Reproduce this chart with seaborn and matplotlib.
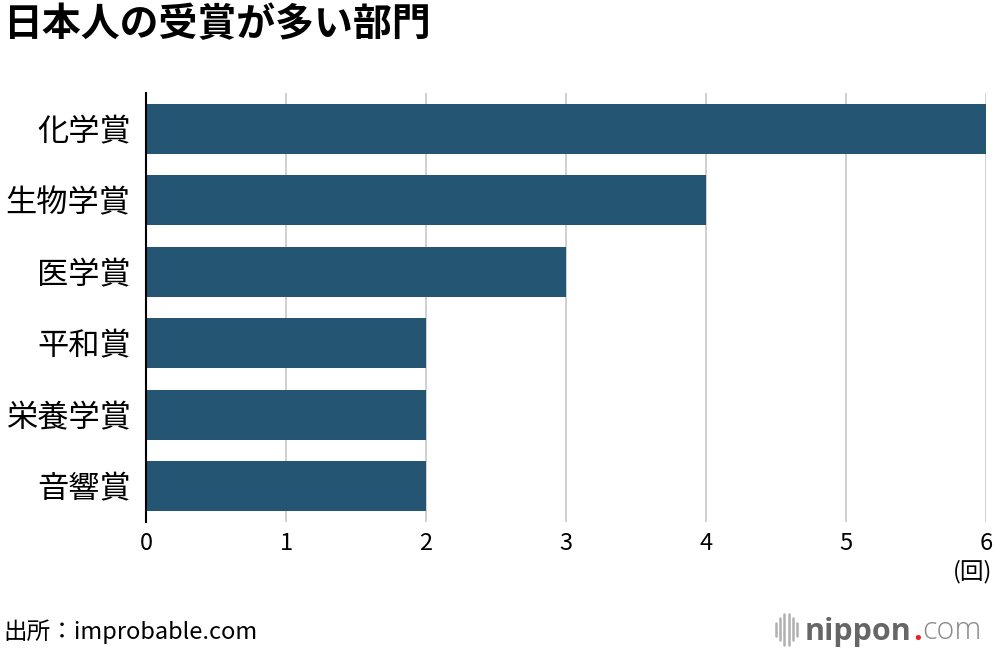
import matplotlib
matplotlib.use('Agg')
import matplotlib.pyplot as plt
from matplotlib.lines import Line2D
import pandas as pd
import seaborn as sns

categories = ['化学賞', '生物学賞', '医学賞', '平和賞', '栄養学賞', '音響賞']
counts = [6, 4, 3, 2, 2, 2]
x_ticks = [0, 1, 2, 3, 4, 5, 6]

TITLE = '日本人の受賞が多い部門'
SOURCE = '出所：improbable.com'
UNIT = '(回)'
BAR_COLOR = '#245673'


def main():
    sns.set_style('white')
    plt.rcParams['font.family'] = ['Noto Sans CJK JP', 'DejaVu Sans']

    data = pd.DataFrame({'category': categories, 'count': counts})

    fig = plt.figure(figsize=(10, 6.5), dpi=100)
    ax = fig.add_axes([0.146, 0.197, 0.84, 0.66])

    sns.barplot(
        data=data,
        x='count',
        y='category',
        color=BAR_COLOR,
        saturation=1,
        width=0.7,
        linewidth=0,
        ax=ax,
        zorder=2,
    )

    ax.set_xlim(0, 6)
    ax.set_xticks(x_ticks)
    ax.set_xticklabels([str(t) for t in x_ticks], fontsize=17, color='black')
    ax.tick_params(axis='x', length=0, pad=7)
    ax.tick_params(axis='y', length=0, pad=11, labelsize=22.5, labelcolor='black')
    ax.xaxis.grid(True, color='#cccccc', linewidth=1.3, zorder=0)
    ax.yaxis.grid(False)
    ax.set_xlabel('')
    ax.set_ylabel('')

    for side in ['top', 'right', 'bottom']:
        ax.spines[side].set_visible(False)
    ax.spines['left'].set_color('black')
    ax.spines['left'].set_linewidth(1.5)
    ax.spines['left'].set_zorder(3)

    fig.text(0.003, 0.962, TITLE, fontsize=28, fontweight='bold', va='center', ha='left', color='black')
    fig.text(0.992, 0.12, UNIT, fontsize=17, va='center', ha='right', color='black')
    fig.text(0.003, 0.028, SOURCE, fontsize=17, va='center', ha='left', color='black')

    # nippon.com logo
    x0 = 0.776
    for i, h in enumerate([0.010, 0.017, 0.024, 0.024, 0.017, 0.010]):
        fig.add_artist(Line2D([x0 + i * 0.0042] * 2, [0.032 - h, 0.032 + h],
                              color='#b0b0b0', linewidth=1.8))
    logo_font = ['Open Sans', 'DejaVu Sans']
    t1 = fig.text(0.805, 0.028, 'nippon', fontsize=22, fontweight='bold',
                  color='#666666', va='center', ha='left', family=logo_font)
    t2 = ax.annotate('.', xy=(1, 0), xycoords=t1, xytext=(1, 0), textcoords='offset points',
                     fontsize=22, fontweight='bold', color='#e8242b',
                     va='bottom', ha='left', family=logo_font)
    ax.annotate('com', xy=(1, 0), xycoords=t2, xytext=(0, 0), textcoords='offset points',
                fontsize=22, fontweight='light', color='#8a8a8a',
                va='bottom', ha='left', family=logo_font)

    fig.savefig('out.png', dpi=100, facecolor='white')


if __name__ == '__main__':
    main()
